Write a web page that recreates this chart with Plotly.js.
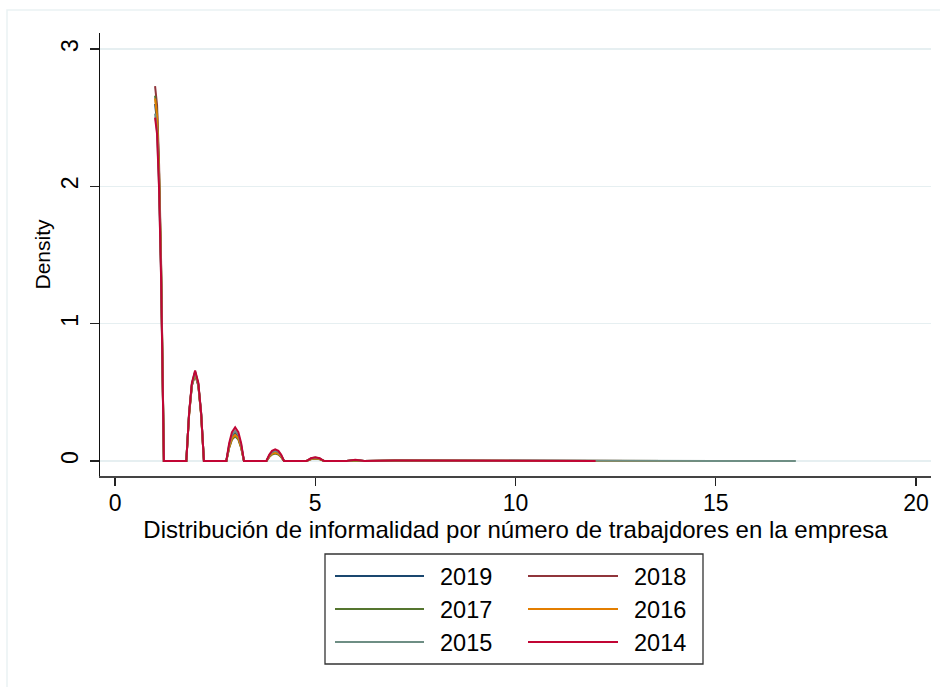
<!DOCTYPE html>
<html>
<head>
<meta charset="utf-8">
<script src="https://cdn.plot.ly/plotly-3.0.1.min.js"></script>
<style>html,body{margin:0;padding:0;background:#fff;}#chart{width:940px;height:687px;}</style>
</head>
<body>
<div id="chart"></div>
<script>
// ---- data ----
const years = ["2019", "2018", "2017", "2016", "2015", "2014"];
const colors = ["#1a476f", "#90353b", "#55752f", "#e37e00", "#6e8e84", "#c10534"];

// shared evaluation points (number of workers)
const xs = [1.00, 1.05, 1.10, 1.15, 1.22, 1.78,
            1.85, 1.92, 2.00, 2.08, 2.15, 2.22, 2.78,
            2.85, 2.92, 3.00, 3.08, 3.15, 3.22, 3.78,
            3.85, 3.92, 4.00, 4.08, 4.15, 4.22,
            4.78, 4.89, 5.00, 5.11, 5.22,
            5.78, 6.00, 6.22,
            7, 8, 9, 10, 11, 12];
const xsExt = [13, 14, 15, 16, 17];

const y2019 = [2.60, 2.47, 2.05, 1.39, 0, 0,
               0.35, 0.56, 0.65, 0.56, 0.35, 0, 0,
               0.11, 0.18, 0.21, 0.18, 0.11, 0, 0,
               0.037, 0.061, 0.07, 0.061, 0.037, 0,
               0, 0.016, 0.022, 0.016, 0,
               0, 0.007, 0,
               0.003, 0.002, 0.002, 0.001, 0.001, 0.001];
const y2018 = [2.73, 2.59, 2.16, 1.46, 0, 0,
               0.34, 0.55, 0.63, 0.55, 0.34, 0, 0,
               0.10, 0.165, 0.19, 0.165, 0.10, 0, 0,
               0.032, 0.052, 0.06, 0.052, 0.032, 0,
               0, 0.015, 0.02, 0.015, 0,
               0, 0.006, 0,
               0.003, 0.002, 0.001, 0.001, 0.001, 0.001];
const y2017 = [2.66, 2.53, 2.10, 1.42, 0, 0,
               0.34, 0.55, 0.63, 0.55, 0.34, 0, 0,
               0.096, 0.156, 0.18, 0.156, 0.096, 0, 0,
               0.029, 0.048, 0.055, 0.048, 0.029, 0,
               0, 0.0135, 0.018, 0.0135, 0,
               0, 0.005, 0,
               0.002, 0.002, 0.001, 0.001, 0.001, 0.001];
const y2016 = [2.64, 2.51, 2.09, 1.41, 0, 0,
               0.34, 0.56, 0.64, 0.56, 0.34, 0, 0,
               0.10, 0.165, 0.19, 0.165, 0.10, 0, 0,
               0.032, 0.052, 0.06, 0.052, 0.032, 0,
               0, 0.015, 0.02, 0.015, 0,
               0, 0.006, 0,
               0.003, 0.002, 0.001, 0.001, 0.001, 0.001];
const y2015 = [2.53, 2.40, 2.00, 1.35, 0, 0,
               0.35, 0.56, 0.65, 0.56, 0.35, 0, 0,
               0.118, 0.19, 0.22, 0.19, 0.118, 0, 0,
               0.04, 0.065, 0.075, 0.065, 0.04, 0,
               0, 0.019, 0.025, 0.019, 0,
               0, 0.008, 0,
               0.004, 0.003, 0.002, 0.002, 0.001, 0.001];
const y2014 = [2.50, 2.38, 1.98, 1.34, 0, 0,
               0.35, 0.57, 0.66, 0.57, 0.35, 0, 0,
               0.13, 0.21, 0.245, 0.21, 0.13, 0, 0,
               0.045, 0.074, 0.085, 0.074, 0.045, 0,
               0, 0.02, 0.027, 0.02, 0,
               0, 0.009, 0,
               0.004, 0.003, 0.002, 0.002, 0.001, 0.001];

// tails beyond 12 workers
const ext2019 = [0.001, 0.001];
const ext2018 = [0.001];
const ext2017 = [0.001, 0.001, 0.001, 0.001];
const ext2016 = [0.001, 0.001, 0.001];
const ext2015 = [0.001, 0.001, 0.001, 0.001, 0.001];
const ext2014 = [];

const xTicks = [0, 5, 10, 15, 20];
const yTicks = [0, 1, 2, 3];
const xTitle = "Distribución de informalidad por número de trabajdores en la empresa";
const yTitle = "Density";

// ---- build ----
const ys = [y2019, y2018, y2017, y2016, y2015, y2014];
const exts = [ext2019, ext2018, ext2017, ext2016, ext2015, ext2014];

const traces = years.map((yr, i) => ({
  type: "scatter",
  mode: "lines",
  name: yr,
  x: xs.concat(xsExt.slice(0, exts[i].length)),
  y: ys[i].concat(exts[i]),
  line: {color: colors[i], width: 2},
  showlegend: false,
  hoverinfo: "x+y+name"
}));

// plot area in pixels: left 100, right 931, top 33, bottom 476
const L = 100, R = 931, T = 33, B = 476, W = 940, H = 687;
const pw = R - L, ph = B - T;
const px = v => (v - L) / pw;
const py = v => (B - v) / ph;

const shapes = [];
const annotations = [];

// outer graph-region border
shapes.push({type: "rect", xref: "paper", yref: "paper",
  x0: px(7), x1: px(960), y0: py(700), y1: py(10),
  line: {color: "#eaf2f3", width: 1.5}, layer: "below"});

// legend box
shapes.push({type: "rect", xref: "paper", yref: "paper",
  x0: px(325), x1: px(703), y0: py(664), y1: py(554),
  line: {color: "#333333", width: 1.3}, fillcolor: "rgba(0,0,0,0)"});

const colLineX = [[335, 424], [528, 618]];
const colTextX = [438, 632];
const rowY = [576, 609, 642];
years.forEach((yr, i) => {
  const col = i % 2, row = Math.floor(i / 2);
  shapes.push({type: "line", xref: "paper", yref: "paper",
    x0: px(colLineX[col][0]), x1: px(colLineX[col][1]),
    y0: py(rowY[row]), y1: py(rowY[row]),
    line: {color: colors[i], width: 2}});
  annotations.push({xref: "paper", yref: "paper", x: px(colTextX[col]), y: py(rowY[row] + 1),
    xanchor: "left", yanchor: "middle", showarrow: false, text: yr,
    font: {size: 23.5, color: "#000"}});
});

const layout = {
  width: W, height: H,
  margin: {l: L, r: W - R, t: T, b: H - B, pad: 0},
  paper_bgcolor: "#ffffff",
  plot_bgcolor: "#ffffff",
  font: {family: "Liberation Sans, Arial, sans-serif", color: "#000"},
  showlegend: false,
  xaxis: {
    range: [-0.375, 20.375],
    tickvals: xTicks, ticktext: xTicks.map(String),
    ticks: "outside", ticklen: 8, tickwidth: 1.3, tickcolor: "#222",
    showgrid: false, zeroline: false,
    showline: true, linecolor: "#444", linewidth: 1.5,
    tickfont: {size: 23},
    ticklabelstandoff: -2,
    title: {text: xTitle, font: {size: 24}, standoff: 0},
    automargin: false
  },
  yaxis: {
    range: [-0.109, 3.117],
    tickvals: yTicks, ticktext: yTicks.map(String),
    ticks: "outside", ticklen: 9, tickwidth: 1.3, tickcolor: "#222",
    tickangle: -90,
    showgrid: true, gridcolor: "#e6eff1", gridwidth: 1.5,
    zeroline: false,
    showline: true, linecolor: "#111", linewidth: 1.3,
    tickfont: {size: 23},
    ticklabelstandoff: 3,
    title: {text: yTitle, font: {size: 21}, standoff: 0},
    automargin: false
  },
  shapes: shapes,
  annotations: annotations
};

Plotly.newPlot("chart", traces, layout, {displayModeBar: false, staticPlot: true});
</script>
</body>
</html>
